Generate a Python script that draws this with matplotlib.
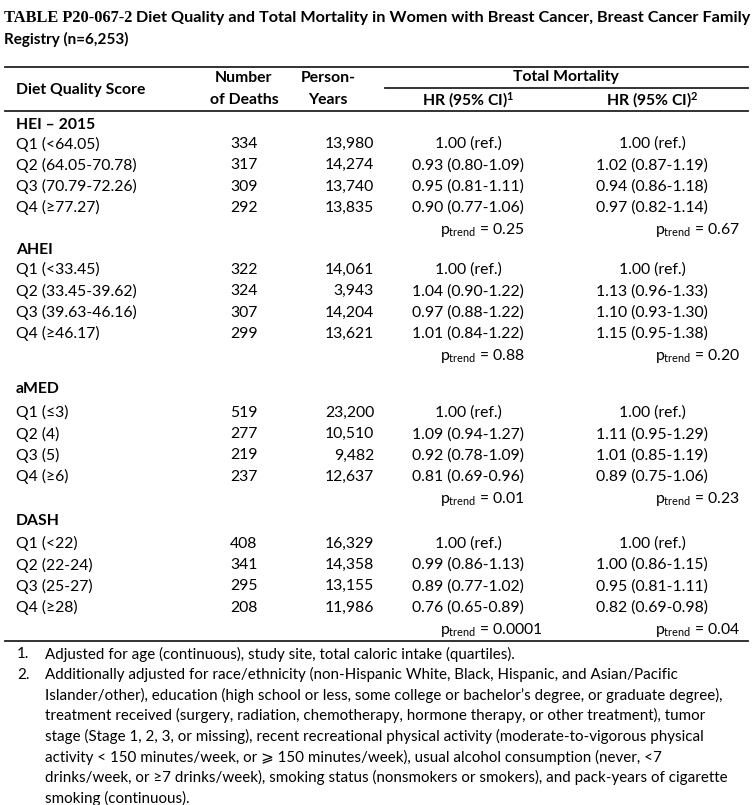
import matplotlib
matplotlib.use("Agg")
import matplotlib.pyplot as plt

# ---- table data ----
title_code = "TABLE P20-067-2"
title_rest = " Diet Quality and Total Mortality in Women with Breast Cancer, Breast Cancer Family"
title_line2 = "Registry (n=6,253)"

sections = ["HEI – 2015", "AHEI", "aMED", "DASH"]
quartiles = [
    ["Q1 (<64.05)", "Q2 (64.05-70.78)", "Q3 (70.79-72.26)", "Q4 (≥77.27)"],
    ["Q1 (<33.45)", "Q2 (33.45-39.62)", "Q3 (39.63-46.16)", "Q4 (≥46.17)"],
    ["Q1 (≤3)", "Q2 (4)", "Q3 (5)", "Q4 (≥6)"],
    ["Q1 (<22)", "Q2 (22-24)", "Q3 (25-27)", "Q4 (≥28)"],
]
deaths = [
    [334, 317, 309, 292],
    [322, 324, 307, 299],
    [519, 277, 219, 237],
    [408, 341, 295, 208],
]
person_years = [
    [13980, 14274, 13740, 13835],
    [14061, 3943, 14204, 13621],
    [23200, 10510, 9482, 12637],
    [16329, 14358, 13155, 11986],
]
hr_model1 = [
    ["1.00 (ref.)", "0.93 (0.80-1.09)", "0.95 (0.81-1.11)", "0.90 (0.77-1.06)"],
    ["1.00 (ref.)", "1.04 (0.90-1.22)", "0.97 (0.88-1.22)", "1.01 (0.84-1.22)"],
    ["1.00 (ref.)", "1.09 (0.94-1.27)", "0.92 (0.78-1.09)", "0.81 (0.69-0.96)"],
    ["1.00 (ref.)", "0.99 (0.86-1.13)", "0.89 (0.77-1.02)", "0.76 (0.65-0.89)"],
]
hr_model2 = [
    ["1.00 (ref.)", "1.02 (0.87-1.19)", "0.94 (0.86-1.18)", "0.97 (0.82-1.14)"],
    ["1.00 (ref.)", "1.13 (0.96-1.33)", "1.10 (0.93-1.30)", "1.15 (0.95-1.38)"],
    ["1.00 (ref.)", "1.11 (0.95-1.29)", "1.01 (0.85-1.19)", "0.89 (0.75-1.06)"],
    ["1.00 (ref.)", "1.00 (0.86-1.15)", "0.95 (0.81-1.11)", "0.82 (0.69-0.98)"],
]
p_trend1 = ["0.25", "0.88", "0.01", "0.0001"]
p_trend2 = ["0.67", "0.20", "0.23", "0.04"]

footnotes = [
    ("1.", ["Adjusted for age (continuous), study site, total caloric intake (quartiles)."]),
    ("2.", [
        "Additionally adjusted for race/ethnicity (non-Hispanic White, Black, Hispanic, and Asian/Pacific",
        "Islander/other), education (high school or less, some college or bachelor’s degree, or graduate degree),",
        "treatment received (surgery, radiation, chemotherapy, hormone therapy, or other treatment), tumor",
        "stage (Stage 1, 2, 3, or missing), recent recreational physical activity (moderate-to-vigorous physical",
        "activity < 150 minutes/week, or ⩾ 150 minutes/week), usual alcohol consumption (never, <7",
        "drinks/week, or ≥7 drinks/week), smoking status (nonsmokers or smokers), and pack-years of cigarette",
        "smoking (continuous).",
    ]),
]

plt.rcParams["font.family"] = ["Lato", "DejaVu Sans"]
plt.rcParams["mathtext.fontset"] = "custom"
plt.rcParams["mathtext.rm"] = "Lato"
plt.rcParams["mathtext.it"] = "Lato"
plt.rcParams["mathtext.bf"] = "Lato:bold"

W, H = 756, 805
fig = plt.figure(figsize=(W / 100, H / 100), dpi=100)
ax = fig.add_axes([0, 0, 1, 1])
ax.set_xlim(0, W)
ax.set_ylim(H, 0)
ax.axis("off")

fs = 11.3
fs_note = 10.9
line_kw = dict(color="#222222", lw=1.3)

# title
t = ax.text(4, 18, title_code, fontsize=11.8, fontweight="bold",
            family="Liberation Serif", va="center")
fig.canvas.draw()
bb = t.get_window_extent()
ax.text(bb.x1, 18, title_rest, fontsize=11.7, fontweight="bold", va="center")
ax.text(4, 39, title_line2, fontsize=11, fontweight="bold", va="center")

# header
x_lab, x_deaths, x_py, x_hr1, x_hr2 = 16, 244, 374, 468, 652
ax.plot([5, 748], [67, 67], **line_kw)
ax.plot([385, 748], [88, 88], **line_kw)
ax.plot([5, 748], [111, 111], **line_kw)
ax.text(x_lab, 90, "Diet Quality Score", fontsize=fs, fontweight="bold", va="center")
ax.text(x_deaths, 78, "Number", fontsize=fs, fontweight="bold", va="center", ha="center")
ax.text(x_deaths, 100, "of Deaths", fontsize=fs, fontweight="bold", va="center", ha="center")
ax.text(328, 78, "Person-", fontsize=fs, fontweight="bold", va="center", ha="center")
ax.text(328, 100, "Years", fontsize=fs, fontweight="bold", va="center", ha="center")
ax.text(566, 77, "Total Mortality", fontsize=fs, fontweight="bold", va="center", ha="center")
ax.text(x_hr1, 100, r"HR (95% CI)$^{\mathbf{1}}$", fontsize=fs, fontweight="bold",
        va="center", ha="center")
ax.text(x_hr2, 100, r"HR (95% CI)$^{\mathbf{2}}$", fontsize=fs, fontweight="bold",
        va="center", ha="center")

# body: vertical gaps in pixels
row_h = 21.3
gap_before_section = [0, 20, 33, 22]
gap_after_section = [19, 20, 24, 23]
gap_p_trend = 22
y = 125
for s, name in enumerate(sections):
    y += gap_before_section[s]
    ax.text(x_lab, y, name, fontsize=fs, fontweight="bold", va="center")
    y += gap_after_section[s]
    for q in range(4):
        if q:
            y += row_h
        ax.text(x_lab, y, quartiles[s][q], fontsize=fs, va="center")
        ax.text(x_deaths, y, str(deaths[s][q]), fontsize=fs, va="center", ha="center")
        ax.text(x_py, y, f"{person_years[s][q]:,}", fontsize=fs, va="center", ha="right")
        ax.text(x_hr1, y, hr_model1[s][q], fontsize=fs, va="center", ha="center")
        ax.text(x_hr2, y, hr_model2[s][q], fontsize=fs, va="center", ha="center")
    y += gap_p_trend
    ax.text(440, y, r"p$_{\mathrm{trend}}$ = " + p_trend1[s], fontsize=fs, va="center")
    ax.text(740, y, r"p$_{\mathrm{trend}}$ = " + p_trend2[s], fontsize=fs, va="center", ha="right")

ax.plot([5, 748], [641, 641], **line_kw)

# footnotes
y = 654
for num, lines in footnotes:
    ax.text(17, y, num, fontsize=fs_note, va="center")
    for ln in lines:
        ax.text(45, y, ln, fontsize=fs_note, va="center")
        y += 20.6

fig.savefig("out.png", dpi=100)
